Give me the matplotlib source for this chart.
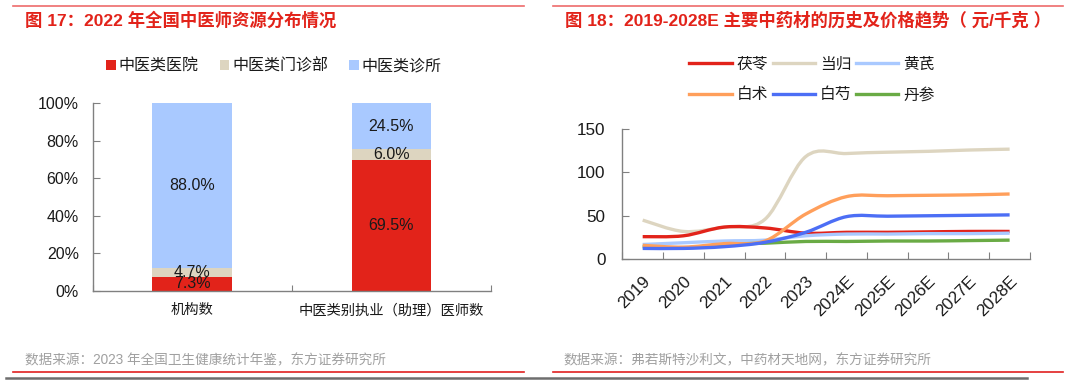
import matplotlib
matplotlib.use("Agg")
import matplotlib.pyplot as plt
from matplotlib.path import Path
from matplotlib.patches import PathPatch
from matplotlib.lines import Line2D
import numpy as np

plt.rcParams['font.family'] = ['Liberation Sans', 'Noto Sans CJK SC']

# ---------------- data ----------------
# left chart
bar_categories = ["机构数", "中医类别执业（助理）医师数"]
bar_series = ["中医类医院", "中医类门诊部", "中医类诊所"]
hospital = [7.3, 69.5]
outpatient = [4.7, 6.0]
clinic = [88.0, 24.5]
pct_ticks = ["0%", "20%", "40%", "60%", "80%", "100%"]

# right chart
years = ["2019", "2020", "2021", "2022", "2023", "2024E", "2025E", "2026E", "2027E", "2028E"]
fuling = [26, 27, 37, 36, 30, 31, 31, 31.5, 32, 32]
danggui = [45, 32, 37, 46, 118, 121.5, 123, 124, 125.5, 126.5]
huangqi = [17, 19, 21, 22, 27, 29, 29, 29.5, 29.5, 30]
baizhu = [16, 14, 18, 21, 52, 72, 73, 73.5, 74, 75]
baishao = [12.5, 12.5, 14.5, 19.5, 31, 49, 49.5, 50, 50.5, 51]
danshen = [14.5, 13, 17, 18.5, 20.5, 20.5, 21, 21, 21.5, 22]
line_names = ["茯苓", "当归", "黄芪", "白术", "白芍", "丹参"]

RED = "#E2231A"
BEIGE = "#DDD5C0"
LBLUE = "#A9C9FF"
ORANGE = "#FF9F5B"
BLUE = "#4C6EF5"
GREEN = "#6AAB45"
SPINE = "#808080"
TXT = "#1a1a1a"

W, H = 1069, 383
fig = plt.figure(figsize=(W / 100, H / 100), dpi=100)

def fx(x):
    return x / W

def fy(y):
    return 1 - y / H

# ---------------- decorations ----------------
for (x0, x1) in [(13, 524), (553, 1063)]:
    fig.add_artist(Line2D([fx(x0), fx(x1)], [fy(6), fy(6)], color="#EE6B6B", lw=1.2))
    fig.add_artist(Line2D([fx(x0), fx(x1)], [fy(372), fy(372)], color="#E02020", lw=1.2))
fig.add_artist(Line2D([fx(6), fx(1027)], [fy(377.5), fy(377.5)], color="#6E6E6E", lw=1.8))

fig.text(fx(25), fy(20), "图 17：2022 年全国中医师资源分布情况", color=RED,
         fontsize=12.5, fontweight="bold", va="center", ha="left")
fig.text(fx(565), fy(20), "图 18：2019-2028E 主要中药材的历史及价格趋势（ 元/千克 ）", color=RED,
         fontsize=12.5, fontweight="bold", va="center", ha="left")
fig.text(fx(25), fy(360), "数据来源：2023 年全国卫生健康统计年鉴，东方证券研究所", color="#a0a0a0",
         fontsize=9.8, va="center", ha="left")
fig.text(fx(563), fy(360), "数据来源：弗若斯特沙利文，中药材天地网，东方证券研究所", color="#a0a0a0",
         fontsize=9.8, va="center", ha="left")

# ---------------- left chart ----------------
ax1 = fig.add_axes([fx(92.7), fy(290.7), fx(491 - 92.7), (290.7 - 103.3) / H])
x = np.arange(len(bar_categories))
bw = 0.4
b1 = ax1.bar(x, hospital, bw, color=RED, label=bar_series[0])
bottom2 = hospital
b2 = ax1.bar(x, outpatient, bw, bottom=bottom2, color=BEIGE, label=bar_series[1])
bottom3 = [a + b for a, b in zip(hospital, outpatient)]
b3 = ax1.bar(x, clinic, bw, bottom=bottom3, color=LBLUE, label=bar_series[2])

for i in range(len(x)):
    ax1.text(x[i], hospital[i] / 2, f"{hospital[i]:.1f}%", ha="center", va="center", fontsize=11.5, color=TXT)
    ax1.text(x[i], hospital[i] + outpatient[i] / 2, f"{outpatient[i]:.1f}%", ha="center", va="center", fontsize=11.5, color=TXT)
    ax1.text(x[i], bottom3[i] + clinic[i] / 2, f"{clinic[i]:.1f}%", ha="center", va="center", fontsize=11.5, color=TXT)

ax1.set_xlim(-0.5, 1.5)
ax1.set_ylim(0, 100)
ax1.set_yticks([0, 20, 40, 60, 80, 100])
ax1.set_yticklabels(pct_ticks)
ax1.set_xticks([-0.5, 0.5, 1.5])
ax1.set_xticklabels([])
ax1.set_xticks(x, minor=True)
ax1.set_xticklabels(bar_categories, minor=True)
ax1.tick_params(axis="x", which="minor", length=0, pad=9, labelsize=10.3, colors=TXT)
ax1.tick_params(axis="x", which="major", direction="in", length=4, color=SPINE)
ax1.tick_params(axis="y", direction="in", length=5, color=SPINE, labelsize=11.5, labelcolor=TXT, pad=10)
for s in ["top", "right"]:
    ax1.spines[s].set_visible(False)
for s in ["left", "bottom"]:
    ax1.spines[s].set_color(SPINE)
    ax1.spines[s].set_linewidth(1)

ax1.legend(handles=[b1, b2, b3], loc="center", bbox_to_anchor=((274 - 92.7) / (491 - 92.7), (290.7 - 66) / (290.7 - 103.3)),
           ncol=3, frameon=False, fontsize=11.5, handlelength=0.6, handleheight=0.6,
           handletextpad=0.2, columnspacing=1.3, labelcolor=TXT)

# ---------------- right chart ----------------
ax2 = fig.add_axes([fx(622.3), fy(259.3), fx(1030 - 622.3), (259.3 - 128.7) / H])
xs = np.arange(len(years))
series = [fuling, danggui, huangqi, baizhu, baishao, danshen]
colors = [RED, BEIGE, LBLUE, ORANGE, BLUE, GREEN]
order = [1, 0, 2, 5, 3, 4]  # draw order (beige behind)

def smooth_path(xv, yv, t=0.5):
    # Catmull-Rom style smoothed curve as cubic Bezier segments
    xv = np.asarray(xv, float)
    yv = np.asarray(yv, float)
    n = len(xv)
    verts = [(xv[0], yv[0])]
    codes = [Path.MOVETO]
    for i in range(n - 1):
        p0 = np.array([xv[max(i - 1, 0)], yv[max(i - 1, 0)]])
        p1 = np.array([xv[i], yv[i]])
        p2 = np.array([xv[i + 1], yv[i + 1]])
        p3 = np.array([xv[min(i + 2, n - 1)], yv[min(i + 2, n - 1)]])
        c1 = p1 + (p2 - p0) * t / 3
        c2 = p2 - (p3 - p1) * t / 3
        verts += [tuple(c1), tuple(c2), tuple(p2)]
        codes += [Path.CURVE4] * 3
    return Path(verts, codes)

handles = {}
for k in order:
    p = PathPatch(smooth_path(xs, series[k]), facecolor="none", edgecolor=colors[k],
                  lw=2.4, transform=ax2.transData, capstyle="butt")
    ax2.add_patch(p)
for k in range(6):
    handles[k] = Line2D([], [], color=colors[k], lw=2.4, label=line_names[k])

ax2.set_xlim(-0.5, 9.5)
ax2.set_ylim(0, 150)
ax2.set_yticks([0, 50, 100, 150])
ax2.set_xticks(np.arange(-0.5, 10, 1.0))
ax2.set_xticklabels([])
ax2.set_xticks(xs, minor=True)
ax2.set_xticklabels(years, minor=True, rotation=45, ha="right", va="top", rotation_mode="anchor")
ax2.tick_params(axis="x", which="minor", length=0, pad=10, labelsize=12.3, colors=TXT)
ax2.tick_params(axis="x", which="major", direction="in", length=5, color=SPINE)
ax2.tick_params(axis="y", direction="in", length=5, color=SPINE, labelsize=12.3, labelcolor=TXT, pad=12)
for s in ["top", "right"]:
    ax2.spines[s].set_visible(False)
for s in ["left", "bottom"]:
    ax2.spines[s].set_color(SPINE)
    ax2.spines[s].set_linewidth(1)

leg_order = [0, 3, 1, 4, 2, 5]
ax2.legend(handles=[handles[k] for k in leg_order], loc="center",
           bbox_to_anchor=((812 - 622.3) / (1030 - 622.3), (259.3 - 79.5) / (259.3 - 128.7)),
           ncol=3, frameon=False, fontsize=11.3, handlelength=2.7, handletextpad=0.3,
           columnspacing=0.3, labelspacing=1.0, labelcolor=TXT)

fig.savefig("out.png", dpi=100)
